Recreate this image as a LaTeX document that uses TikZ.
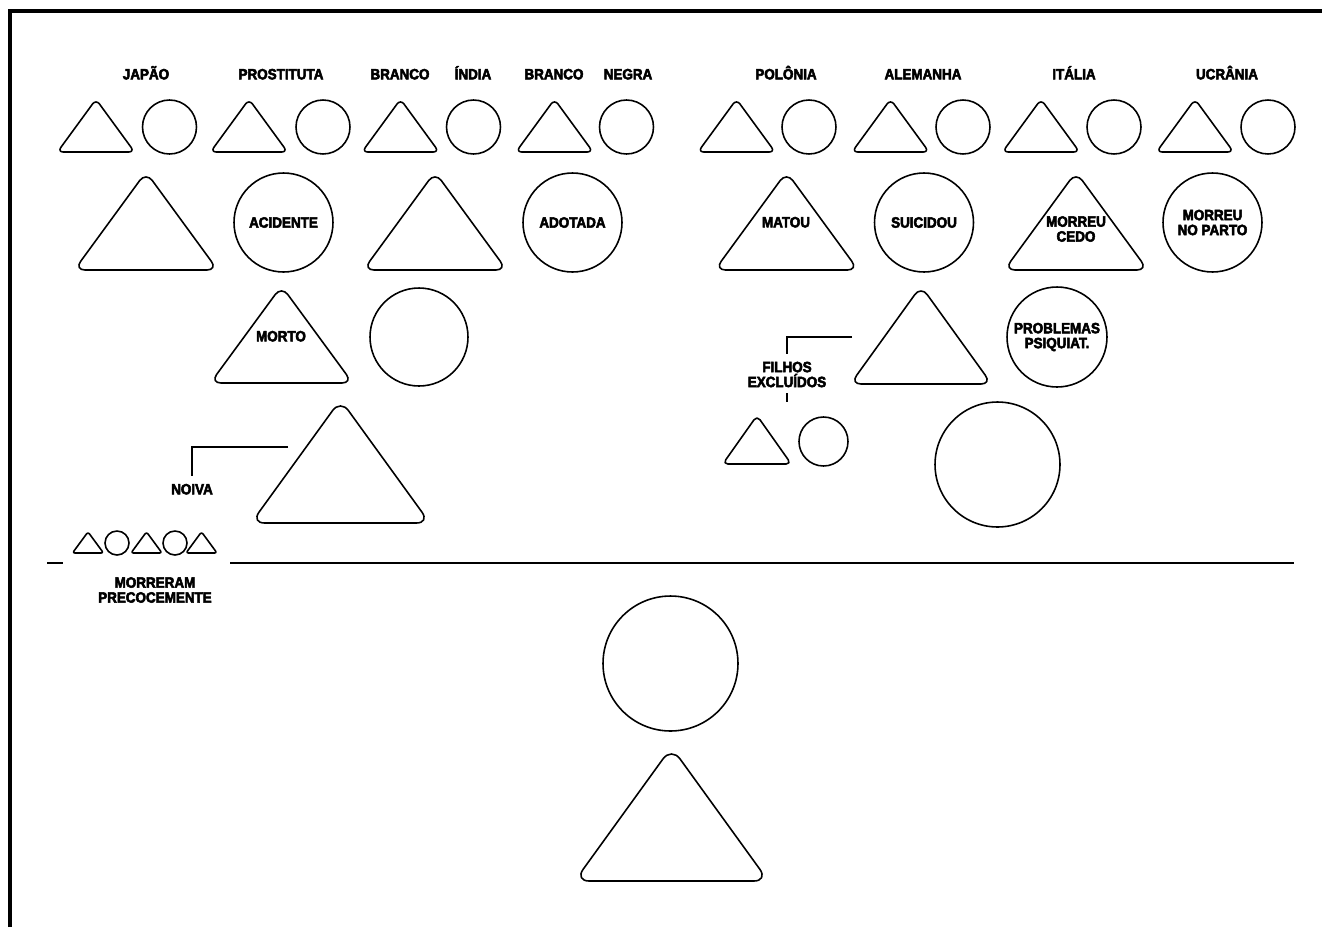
\documentclass[tikz,border=0pt]{standalone}
\usepackage{fontspec}
\newfontfamily\lblfont{Liberation Sans Bold}[FakeStretch=0.9,FakeBold=3.5]
\newcommand{\lblset}{\lblfont\fontsize{8.5pt}{8.5pt}\selectfont}
\newcommand{\tri}[4]{\draw[tribox,rounded corners={#3*0.0455pt}] (#1-0.535*#3,#2) -- (#1,#2-#4-0.038*#3) -- (#1+0.535*#3,#2) -- cycle;}
\begin{document}
\begin{tikzpicture}[x=0.02cm,y=-0.02cm,
  tribox/.style={draw,line width=0.9pt,line join=round},
  circbox/.style={draw,circle,line width=0.9pt,inner sep=0pt,font=\lblset,align=center},
  lbl/.style={font=\lblset,inner sep=0pt,text height=6.1pt,text depth=0pt},
  lbltwo/.style={font=\lblset,inner sep=0pt,align=center},
  link/.style={line width=0.6pt},
  sepline/.style={line width=1.2pt},
  framelines/.style={line width=2pt}]
\useasboundingbox (0,0) rectangle (1322,927);
\draw[framelines] (10,927) -- (10,11) -- (1322,11);

\node[lbl] (japao) at (146,74) {JAPÃO};
\node[lbl] (prost) at (281,74) {PROSTITUTA};
\node[lbl] (brancoA) at (400,74) {BRANCO};
\node[lbl] (india) at (473,74) {ÍNDIA};
\node[lbl] (brancoB) at (554,74) {BRANCO};
\node[lbl] (negra) at (628,74) {NEGRA};
\node[lbl] (polonia) at (786,74) {POLÔNIA};
\node[lbl] (alemanha) at (923,74) {ALEMANHA};
\node[lbl] (italia) at (1074,74) {ITÁLIA};
\node[lbl] (ucrania) at (1227,74) {UCRÂNIA};

\tri{96}{152}{72}{50}
\node[circbox,minimum size=1.08cm] (japaoF) at (169.5,127) {};
\tri{249}{152}{72}{50}
\node[circbox,minimum size=1.08cm] (prostF) at (323,127) {};
\tri{400.5}{152}{72}{50}
\node[circbox,minimum size=1.08cm] (indiaF) at (473.5,127) {};
\tri{554.5}{152}{72}{50}
\node[circbox,minimum size=1.08cm] (negraF) at (626.5,127) {};
\tri{736.5}{152}{72}{50}
\node[circbox,minimum size=1.08cm] (poloniaF) at (809,127) {};
\tri{890.5}{152}{72}{50}
\node[circbox,minimum size=1.08cm] (alemanhaF) at (963,127) {};
\tri{1041}{152}{72}{50}
\node[circbox,minimum size=1.08cm] (italiaF) at (1114,127) {};
\tri{1195}{152}{72}{50}
\node[circbox,minimum size=1.08cm] (ucraniaF) at (1268,127) {};

\tri{146}{270}{134}{93}
\node[circbox,minimum size=1.98cm] (acidente) at (283.5,222.5) {ACIDENTE};
\tri{435}{270}{134}{93}
\node[circbox,minimum size=1.98cm] (adotada) at (572.5,222.5) {ADOTADA};
\tri{786.5}{270}{134}{93}
\node[lbl] (matou) at (786,222) {MATOU};
\node[circbox,minimum size=1.98cm] (suicidou) at (924,222.5) {SUICIDOU};
\tri{1076}{270}{134}{93}
\node[lbltwo] (cedo) at (1076,229) {MORREU\\CEDO};
\node[circbox,minimum size=1.98cm] (parto) at (1212.5,222.5) {MORREU\\NO PARTO};

\tri{281.5}{383}{133}{92}
\node[lbl] (morto) at (281,336) {MORTO};
\node[circbox,minimum size=1.96cm] (maeF) at (419,337) {};
\tri{921}{384}{132}{93}
\node[circbox,minimum size=2cm] (psiq) at (1057,337) {PROBLEMAS\\PSIQUIAT.};

\coordinate (filhosend) at (852,337);
\coordinate (filhostick) at (787,402);
\node[lbltwo] (filhos) at (787,374.5) {FILHOS\\EXCLUÍDOS};
\draw[link] (filhosend) -| ([yshift=4.4pt]filhos.north);
\draw[link] ([yshift=-3.2pt]filhos.south) -- (filhostick);
\tri{757}{464}{64}{46}
\node[circbox,minimum size=0.98cm] (filhoF) at (823.5,441.5) {};
\node[circbox,minimum size=2.5cm] (bigF) at (997.5,464.5) {};

\tri{340.5}{523}{167}{117}
\coordinate (noivaend) at (288,447);
\node[lbl] (noiva) at (192,489) {NOIVA};
\draw[link] (noivaend) -| ([yshift=4.3pt]noiva.north);

\tri{88}{553}{29}{20}
\node[circbox,minimum size=0.48cm] (precA) at (117,543) {};
\tri{146.5}{553}{29}{20}
\node[circbox,minimum size=0.48cm] (precB) at (175,543) {};
\tri{201.5}{553}{29}{20}
\node[lbltwo] (prec) at (155,590) {MORRERAM\\PRECOCEMENTE};
\draw[sepline] (47,563) -- (63,563);
\draw[sepline] (230,563) -- (1294,563);

\node[circbox,minimum size=2.7cm] (egoF) at (670.5,663.5) {};
\tri{671.5}{881}{181}{127}
\end{tikzpicture}
\end{document}
